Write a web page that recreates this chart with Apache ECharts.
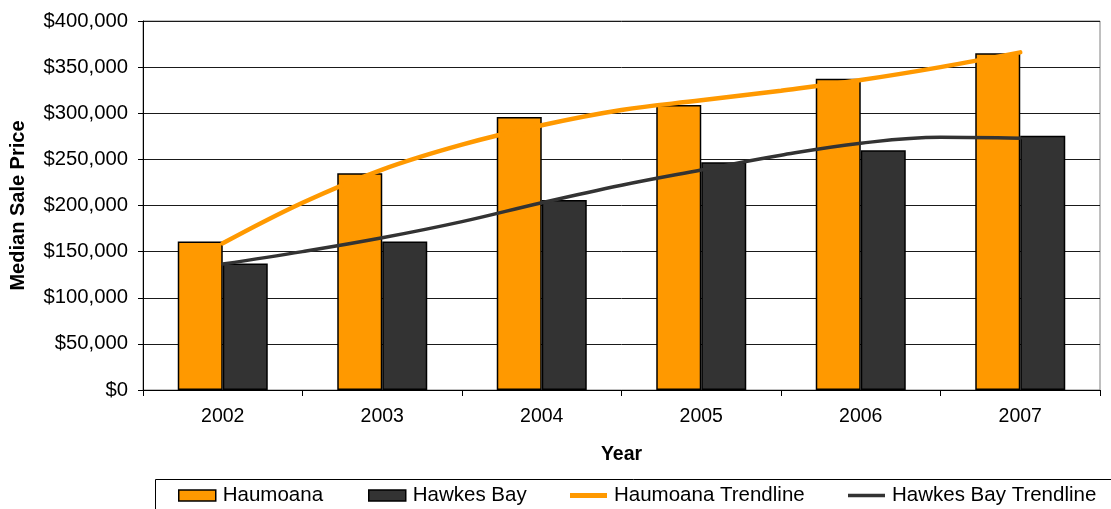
<!DOCTYPE html>
<html>
<head>
<meta charset="utf-8">
<script src="https://cdn.jsdelivr.net/npm/echarts@6/dist/echarts.min.js"></script>
<style>
html,body{margin:0;padding:0;background:#fff;}
#chart{width:1111px;height:509px;}
</style>
</head>
<body>
<div id="chart"></div>
<script>
const years = ['2002', '2003', '2004', '2005', '2006', '2007'];
const haumoana = [161000, 235000, 296000, 309000, 337500, 365000];
const hawkesBay = [137000, 161000, 206000, 247000, 260000, 275500];
const trendYears = [2002, 2002.5, 2003, 2003.5, 2004, 2004.5, 2005, 2005.5, 2006, 2006.5, 2007];
const haumoanaTrend = [159000, 203000, 239000, 266000, 287000, 303500, 314000, 324500, 336000, 350000, 366000];
const hawkesBayTrend = [136500, 150000, 165000, 182500, 203000, 222000, 238500, 254500, 267500, 274000, 273000];
const yTicks = [0, 50000, 100000, 150000, 200000, 250000, 300000, 350000, 400000];
const seriesNames = ['Haumoana', 'Hawkes Bay', 'Haumoana Trendline', 'Hawkes Bay Trendline'];

const FONT = '"Liberation Sans", Arial, sans-serif';
const chart = echarts.init(document.getElementById('chart'), null, {renderer: 'canvas'});

function money(v) {
  return '$' + String(v).replace(/\B(?=(\d{3})+(?!\d))/g, ',');
}

const legendText = {fontFamily: FONT, fontSize: 20.5, color: '#000', padding: [0, 0, 0, 2]};
function legendFor(name, left, h, icon, extra) {
  return Object.assign({
    left: left, top: 485, padding: 0, itemWidth: 37, itemHeight: h, icon: icon,
    textStyle: legendText, data: [name], selectedMode: true
  }, extra || {});
}

chart.setOption({
  animation: false,
  backgroundColor: '#ffffff',
  textStyle: {fontFamily: FONT, color: '#000'},
  grid: {
    left: 143, right: 11, top: 21, bottom: 119,
    show: true, borderColor: '#808080', borderWidth: 1, backgroundColor: 'transparent'
  },
  legend: [
    legendFor(seriesNames[0], 178, 11, 'rect', {itemStyle: {borderColor: '#000', borderWidth: 1.5}}),
    legendFor(seriesNames[1], 368, 11, 'rect', {itemStyle: {borderColor: '#000', borderWidth: 1.5}}),
    legendFor(seriesNames[2], 570, 5, 'rect', {itemStyle: {borderWidth: 0}}),
    legendFor(seriesNames[3], 848, 3.5, 'rect', {itemStyle: {borderWidth: 0}})
  ],
  graphic: [{
    type: 'rect', left: 153, top: 477,
    shape: {width: 1000, height: 60},
    style: {fill: 'none', stroke: '#000', lineWidth: 1},
    silent: true, z: -1
  }],
  xAxis: [{
    type: 'category', data: years,
    name: 'Year', nameLocation: 'middle', nameGap: 55,
    nameTextStyle: {fontFamily: FONT, fontSize: 19.5, fontWeight: 'bold', color: '#000'},
    axisLine: {lineStyle: {color: '#000', width: 1}},
    axisTick: {show: true, length: 6, lineStyle: {color: '#000'}},
    axisLabel: {fontFamily: FONT, fontSize: 19.5, color: '#000', margin: 17}
  }, {
    type: 'value', min: 2001.5, max: 2007.5, show: false
  }],
  yAxis: {
    type: 'value', min: 0, max: 400000, interval: 50000,
    name: 'Median Sale Price', nameLocation: 'middle', nameGap: 115, nameRotate: 90,
    nameTextStyle: {fontFamily: FONT, fontSize: 20, fontWeight: 'bold', color: '#000'},
    axisLine: {show: true, lineStyle: {color: '#000', width: 1}},
    axisTick: {show: true, length: 5, lineStyle: {color: '#000'}},
    axisLabel: {fontFamily: FONT, fontSize: 20.3, color: '#000', margin: 15,
      formatter: function (v) { return yTicks.indexOf(v) >= 0 ? money(v) : ''; }},
    splitLine: {show: true, lineStyle: {color: '#1a1a1a', width: 1}}
  },
  series: [{
    name: seriesNames[0], type: 'bar', data: haumoana,
    barWidth: 45, barGap: '0%',
    itemStyle: {color: '#FF9900', borderColor: '#000', borderWidth: 1.5},
    z: 2
  }, {
    name: seriesNames[1], type: 'bar', data: hawkesBay,
    barWidth: 45, barGap: '0%',
    itemStyle: {color: '#333333', borderColor: '#000', borderWidth: 1.5},
    z: 2
  }, {
    name: seriesNames[2], type: 'line', xAxisIndex: 1,
    data: trendYears.map((x, i) => [x, haumoanaTrend[i]]),
    smooth: 0.4, symbol: 'none',
    lineStyle: {color: '#FF9900', width: 4.5, cap: 'round'},
    itemStyle: {color: '#FF9900'},
    z: 5
  }, {
    name: seriesNames[3], type: 'line', xAxisIndex: 1,
    data: trendYears.map((x, i) => [x, hawkesBayTrend[i]]),
    smooth: 0.4, symbol: 'none',
    lineStyle: {color: '#333333', width: 3.5, cap: 'round'},
    itemStyle: {color: '#333333'},
    z: 4
  }]
});
</script>
</body>
</html>
